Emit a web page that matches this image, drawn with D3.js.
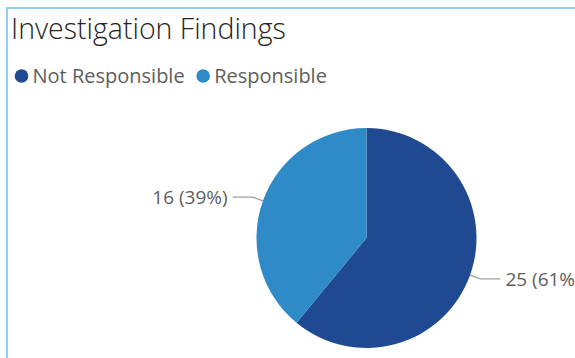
<!DOCTYPE html>
<html>
<head>
<meta charset="utf-8">
<script src="https://cdn.jsdelivr.net/npm/d3@7/dist/d3.min.js"></script>
<style>
  html, body { margin: 0; padding: 0; background: #fff; overflow: hidden; }
  svg { display: block; }
  text { font-family: "Open Sans", "Noto Sans", sans-serif; }
</style>
</head>
<body>
<svg id="chart" width="575" height="358"></svg>
<script>
const categories = ["Not Responsible", "Responsible"];
const counts = [25, 16];
const colors = ["#1F4A91", "#2E8BC7"];
const chartTitle = "Investigation Findings";

const svg = d3.select("#chart");
const W = 575, H = 358;

// card frame: light blue top and left edges
svg.append("path")
  .attr("d", `M7,${H} L7,8 L${W},8`)
  .attr("fill", "none")
  .attr("stroke", "#8ED0EE")
  .attr("stroke-width", 2);

svg.append("text")
  .attr("x", 11).attr("y", 39)
  .attr("font-size", 28.5)
  .attr("font-weight", 300)
  .attr("fill", "#252423")
  .text(chartTitle);

// legend
const color = d3.scaleOrdinal().domain(categories).range(colors);
let lx = 21.5;
categories.forEach(c => {
  svg.append("circle").attr("cx", lx).attr("cy", 76).attr("r", 6.8).attr("fill", color(c));
  const t = svg.append("text")
    .attr("x", lx + 11).attr("y", 83)
    .attr("font-size", 20)
    .attr("fill", "#605E5C")
    .text(c);
  lx += 11 + t.node().getComputedTextLength() + 18.5;
});

// pie
const cx = 366.5, cy = 238, r = 110;
const total = d3.sum(counts);
const pie = d3.pie().sort(null).value(d => d.v);
const arcs = pie(categories.map((c, i) => ({ c, v: counts[i] })));
const arc = d3.arc().innerRadius(0).outerRadius(r);
const g = svg.append("g").attr("transform", `translate(${cx},${cy})`);

g.selectAll("path.slice").data(arcs).join("path")
  .attr("class", "slice")
  .attr("d", arc)
  .attr("fill", d => color(d.data.c));

// leader lines and labels
arcs.forEach(d => {
  const a = (d.startAngle + d.endAngle) / 2;
  const p0 = [Math.sin(a) * r, -Math.cos(a) * r];
  const p1 = [Math.sin(a) * (r + 11), -Math.cos(a) * (r + 11)];
  const right = Math.sin(a) > 0;
  const p2 = [p1[0] + (right ? 20 : -20), p1[1]];
  g.append("polyline")
    .attr("points", [p0, p1, p2].map(p => p.join(",")).join(" "))
    .attr("fill", "none")
    .attr("stroke", "#A19F9D")
    .attr("stroke-width", 1.3);
  const pct = Math.round(d.data.v / total * 100);
  g.append("text")
    .attr("x", p2[0] + (right ? 5 : -5))
    .attr("y", p2[1])
    .attr("dy", "0.35em")
    .attr("text-anchor", right ? "start" : "end")
    .attr("font-size", 19)
    .attr("fill", "#605E5C")
    .text(`${d.data.v} (${pct}%)`);
});
</script>
</body>
</html>
